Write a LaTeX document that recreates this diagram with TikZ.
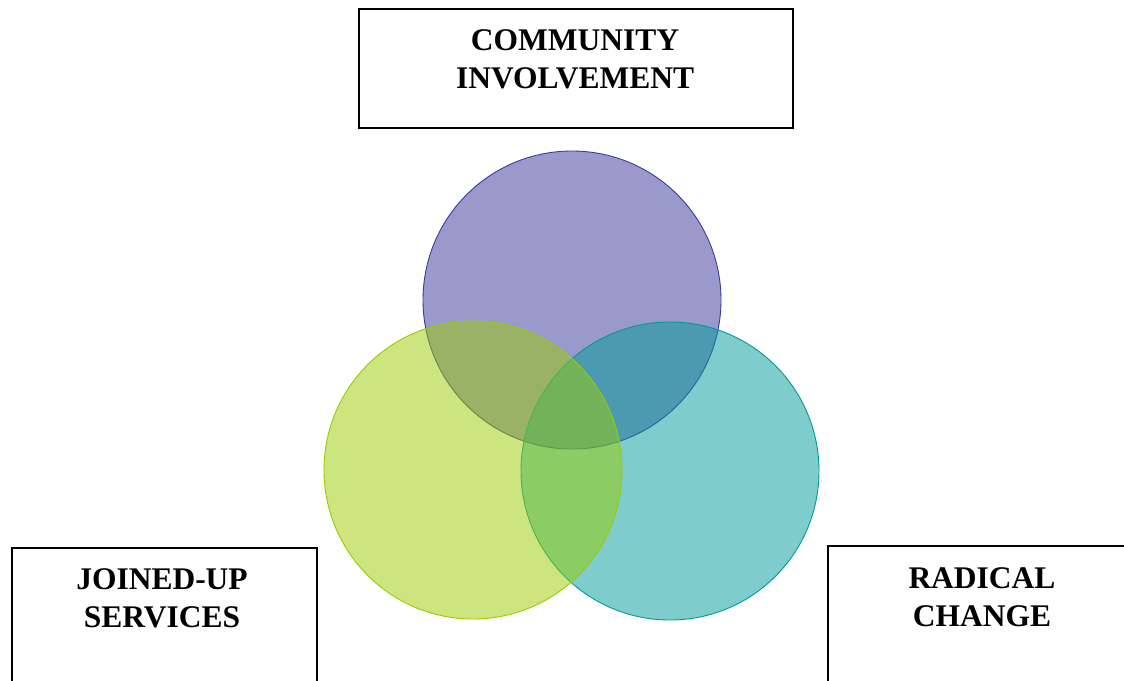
\documentclass[tikz,border=0pt]{standalone}
\usepackage{fontspec}
\setmainfont{Liberation Serif}
\definecolor{cpurple}{RGB}{51,51,153}
\definecolor{cpurpleedge}{RGB}{60,60,160}
\definecolor{cgreen}{RGB}{153,204,0}
\definecolor{cteal}{RGB}{0,153,153}
\tikzset{
  labelbox/.style={draw=black, line width=1.6pt, fill=none},
  labeltext/.style={font=\fontsize{31.5}{38.5}\selectfont\bfseries, align=center, inner sep=0pt},
  venn/.style={circle, inner sep=0pt, minimum size=298pt, fill opacity=0.5, draw opacity=1, line width=0.9pt}
}
\begin{document}
\begin{tikzpicture}[x=1pt,y=-1pt]
\useasboundingbox (0,0) rectangle (1124,680);
% circles
\node[venn, fill=cpurple, draw=cpurpleedge] (ci) at (572,300) {};
\node[venn, fill=cteal, draw=cteal] (rc) at (670,471) {};
\node[venn, fill=cgreen, draw=cgreen] (js) at (473,470) {};
% boxes
\draw[labelbox] (359,9) rectangle (793,128);
\node[labeltext] (citext) at (575,59.5) {COMMUNITY\\INVOLVEMENT};
\draw[labelbox] (12,548) rectangle (317,700);
\node[labeltext] (jstext) at (162,598.5) {JOINED-UP\\SERVICES};
\draw[labelbox] (828,546) rectangle (1140,700);
\node[labeltext] (rctext) at (982,597) {RADICAL\\CHANGE};
\end{tikzpicture}
\end{document}
